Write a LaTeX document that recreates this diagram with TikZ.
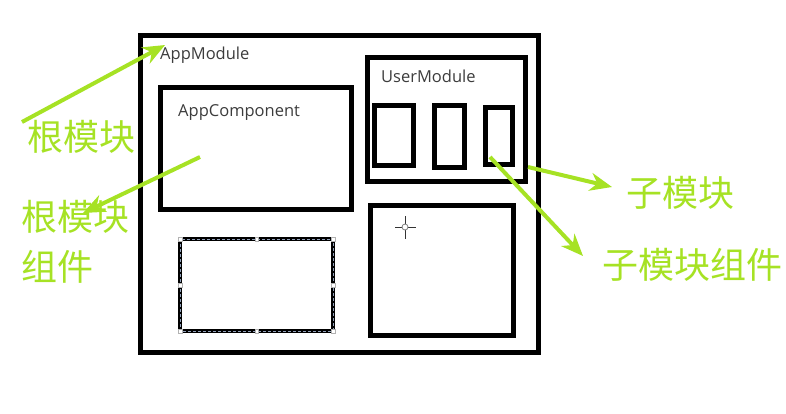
\documentclass[tikz,border=0pt]{standalone}
\usepackage{fontspec}
\setmainfont{Open Sans}
\newfontfamily\cjk{Noto Sans CJK SC}
\usetikzlibrary{arrows.meta}
\definecolor{lime}{RGB}{166,226,36}
\definecolor{labelgray}{RGB}{60,60,60}
\definecolor{selblue}{RGB}{40,70,120}
\begin{document}
\begin{tikzpicture}[x=1pt,y=-1pt,
  frame/.style={draw=black,line width=5pt},
  boxlabel/.style={anchor=base west,inner sep=0pt,text=labelgray,font=\fontsize{16.5}{18}\selectfont},
  note/.style={text=lime,inner sep=0pt,font=\cjk\fontsize{36}{50}\selectfont},
  pointer/.style={draw=lime,line width=4pt,-{Stealth[length=22pt,width=18pt,inset=7pt]}},
  handle/.style={draw=gray!60,fill=white,line width=0.4pt,minimum size=3.5pt,inner sep=0pt}]
\useasboundingbox (0,0) rectangle (786,413);

% modules and components
\draw[frame] (140,35) rectangle (538,352);
\coordinate (appmod) at (165,45);
\node[boxlabel] (applbl) at (160,59) {AppModule};

\draw[frame] (160,87) rectangle (351,209);
\coordinate (appcomp) at (200,157);
\node[boxlabel] (complbl) at (178,116) {AppComponent};

\draw[frame] (367,57) rectangle (525,181);
\node[boxlabel] (userlbl) at (381,82) {UserModule};
\draw[frame] (374,105) rectangle (413,165);
\draw[frame] (434,105) rectangle (464,167);
\draw[frame] (485,107) rectangle (512,164);
\coordinate (subcomp) at (490,157);
\coordinate (submod) at (528,167);

\draw[frame] (370,205) rectangle (513,335);

% selected component with dashed outline and handles
\draw[draw=black,line width=4pt] (180,239) rectangle (333,331);
\draw[draw=selblue!50!white,line width=0.9pt,dash pattern=on 3pt off 2pt] (180,239) rectangle (333,331);
\foreach \px/\py in {180/239,256.5/239,333/239,180/285,333/285,180/331,256.5/331,333/331}
  \node[handle] at (\px,\py) {};

% cursor crosshair
\draw[line width=1pt,black!80] (395,227) -- (416,227) (405,216) -- (405,239);
\draw[line width=0.8pt,gray,fill=white] (405,227) circle (3pt);

% annotations
\node[note,anchor=west] (root) at (27,137) {根模块};
\node[note,anchor=north west,align=left] (rootcomp) at (21,200) {根模块\\组件};
\node[note,anchor=west] (child) at (626,193) {子模块};
\node[note,anchor=west] (childcomp) at (602,265) {子模块组件};

\coordinate (roottail) at (22,122);
\coordinate (rcomptip) at (83,213);
\coordinate (childtip) at (612,187);
\coordinate (ccomptip) at (583,256);

\draw[pointer] (roottail) -- (appmod);
\draw[pointer] (appcomp) -- (rcomptip);
\draw[pointer] (submod) -- (childtip);
\draw[pointer] (subcomp) -- (ccomptip);
\end{tikzpicture}
\end{document}
